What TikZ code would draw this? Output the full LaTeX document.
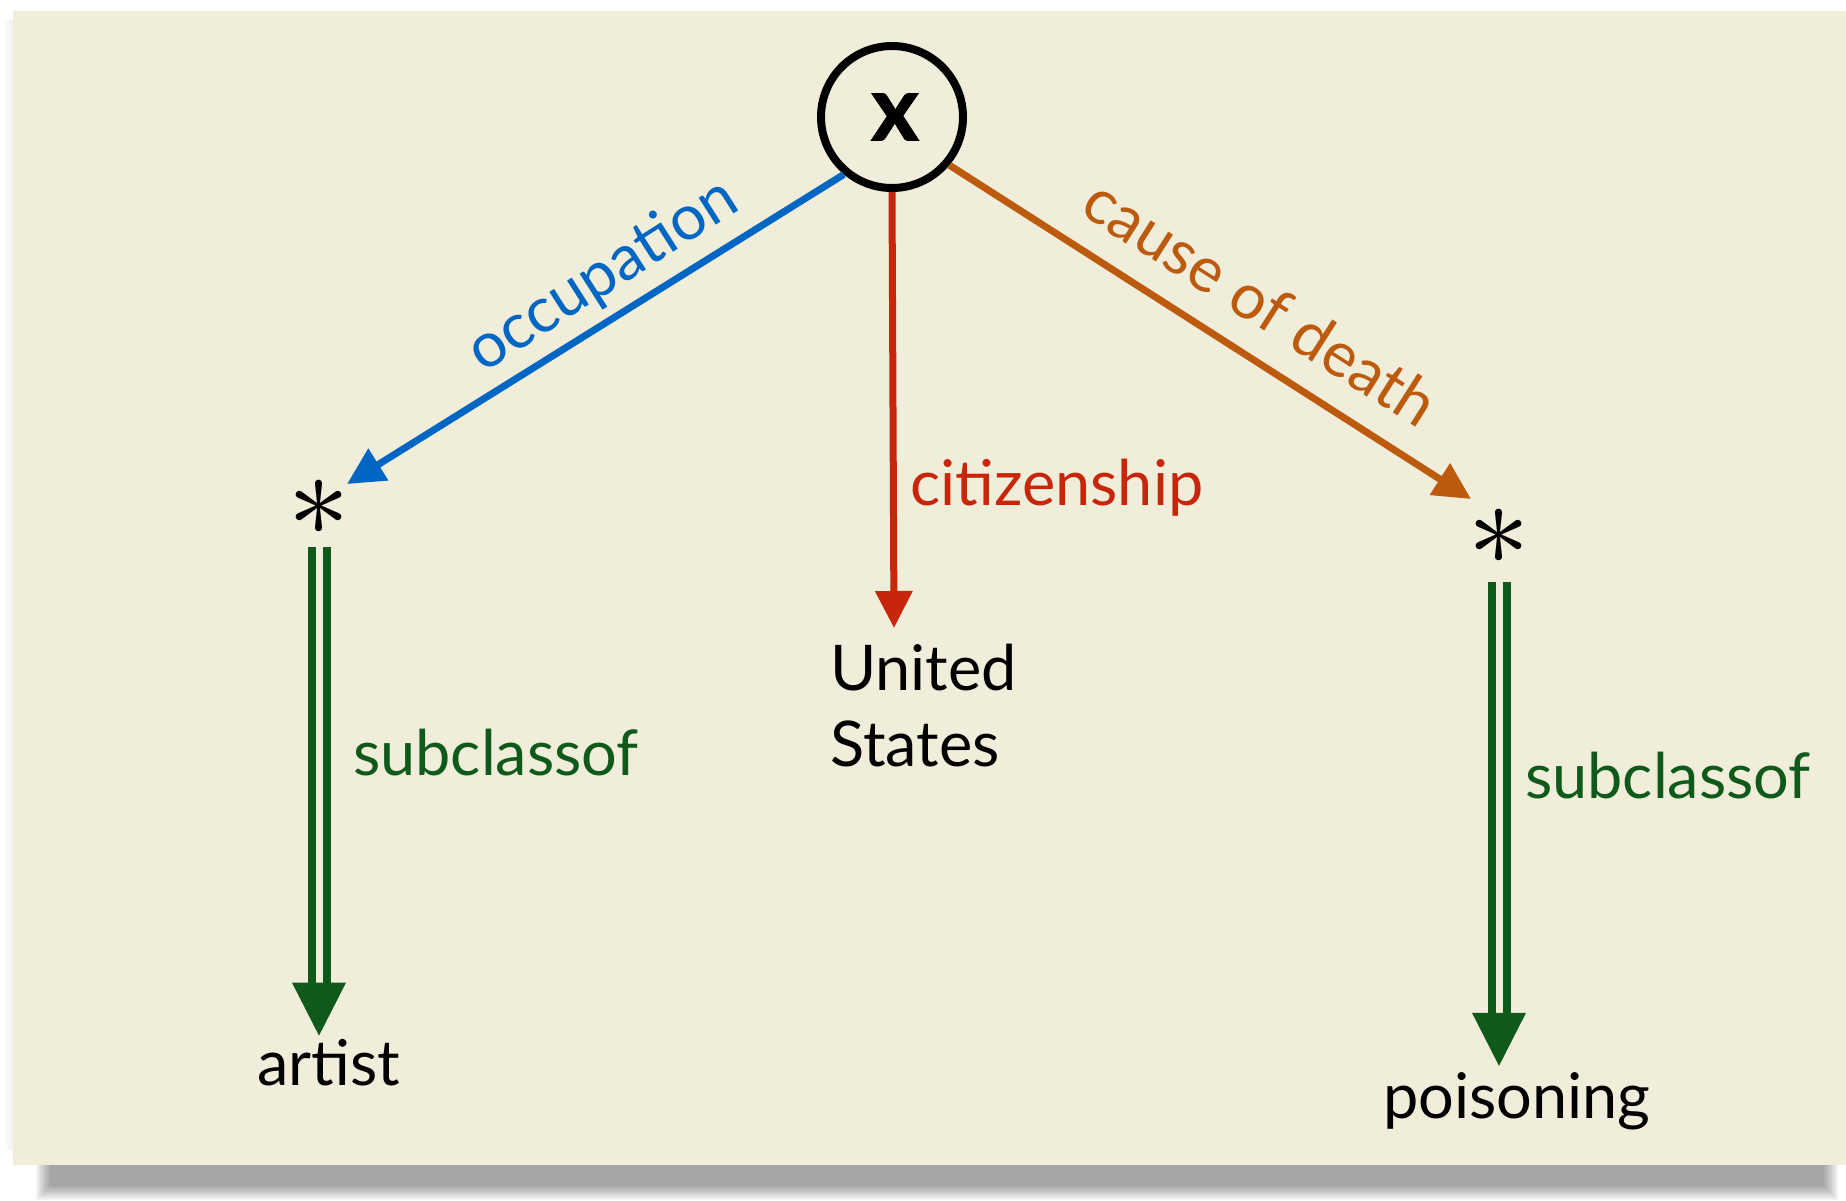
\documentclass[tikz,border=0pt]{standalone}
\usepackage{fontspec}
\setmainfont{Lato}
\newfontfamily\symfont{Latin Modern Math}
\usetikzlibrary{arrows.meta,calc}

\definecolor{paper}{RGB}{240,237,218}
\definecolor{occblue}{RGB}{0,102,196}
\definecolor{citred}{RGB}{200,38,10}
\definecolor{deathorange}{RGB}{188,90,14}
\definecolor{subgreen}{RGB}{15,90,26}

\begin{document}
\begin{tikzpicture}[x=1pt,y=-1pt,
  lbl/.style={font=\fontsize{63}{76}\selectfont, inner sep=0pt},
  var/.style={circle, draw, line width=8pt, minimum size=142pt, inner sep=0pt,
              font=\fontsize{90}{90}\selectfont\bfseries\addfontfeatures{FakeBold=1.6}},
  star/.style={font=\fontsize{122}{122}\selectfont\symfont, inner sep=0pt, minimum height=#1},
  rel/.style={line width=7pt, -{Triangle[length=37pt,width=36pt]}},
  subline/.style={draw=subgreen, line width=8pt, double=paper, double distance=7pt},
  subhead/.style={fill=subgreen},
]
\useasboundingbox (0,0) rectangle (1846,1200);
\fill[white] (0,0) rectangle (1846,1200);

% soft drop shadow under the sheet
\foreach \i in {0,...,7}
  \fill[black, opacity=0.05] (36+2*\i,1150) rectangle (1838-2*\i,1200-2*\i);
\foreach \i in {0,...,3}
  \fill[black, opacity=0.012] (4+2*\i,20) rectangle (30,1150);

% the sheet
\fill[paper] (13,11) rectangle (1846,1165);

% nodes
\node[var] (x) at (892,117) {\hspace*{6pt}x};
\node[star=78pt] (ast1) at (319,508) {∗};
\node[star=90pt] (ast2) at (1499,537) {∗};
\node[lbl, anchor=north west, align=left] (us) at (830,644) {United\\States};
\node[lbl, anchor=base] (art) at (329,1085) {artist};
\node[lbl, anchor=base] (poi) at (1517,1118) {poisoning};

% relations from x
\draw[rel, occblue] (x.230) -- ([shift={(28,-24)}]ast1.center);
\draw[rel, deathorange] (x.-40) -- ([shift={(-28,-38)}]ast2.center);
\draw[rel, citred] (x.south) -- ($(x.south |- us.north)+(2,-16)$);

% subclass links
\draw[subline] (ast1.south) -- ($(ast1.south |- art.north)+(0,-50)$);
\fill[subhead] ($(ast1.south |- art.north)+(0,-3)$) -- ++(-27,-53) -- ++(54,0) -- cycle;
\draw[subline] (ast2.south) -- ($(ast2.south |- poi.north)+(0,-54)$);
\fill[subhead] ($(ast2.south |- poi.north)+(0,-6)$) -- ++(-27,-53) -- ++(54,0) -- cycle;

% edge labels
\node[lbl, text=occblue, rotate=32.5] (occlbl) at (603,276) {occupation};
\node[lbl, text=deathorange, rotate=-32.5] (deathlbl) at (1261,302) {cause of death};
\node[lbl, text=citred, anchor=base west] (citlbl) at (910,505) {citizenship};
\node[lbl, text=subgreen, anchor=base west] (sub1) at (353,775) {subclassof};
\node[lbl, text=subgreen, anchor=base west] (sub2) at (1525,798) {subclassof};
\end{tikzpicture}
\end{document}
